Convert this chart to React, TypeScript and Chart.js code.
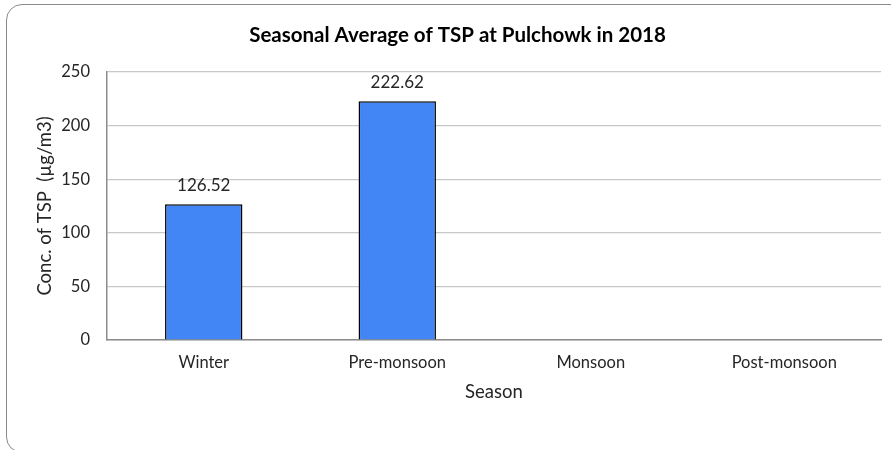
import React, { useEffect, useRef } from "react";
import { Chart, registerables } from "chart.js";

Chart.register(...registerables);

const categories = ["Winter", "Pre-monsoon", "Monsoon", "Post-monsoon"];
const tspValues: (number | null)[] = [126.52, 222.62, null, null];
const yTicks = [0, 50, 100, 150, 200, 250];

const FONT = "Lato, 'Open Sans', 'Liberation Sans', sans-serif";

const valueLabels = {
  id: "valueLabels",
  afterDatasetsDraw(chart: any) {
    const ctx = chart.ctx;
    const meta = chart.getDatasetMeta(0);
    ctx.save();
    ctx.font = `17px ${FONT}`;
    ctx.fillStyle = "#262626";
    ctx.textAlign = "center";
    ctx.textBaseline = "middle";
    meta.data.forEach((bar: any, i: number) => {
      const v = tspValues[i];
      if (v === null || v === undefined) return;
      ctx.fillText(v.toFixed(2), bar.x, bar.y - 19);
    });
    ctx.restore();
  },
};

export default function App() {
  const ref = useRef<HTMLCanvasElement | null>(null);
  useEffect(() => {
    if (!ref.current) return;
    const chart = new Chart(ref.current, {
      type: "bar",
      data: {
        labels: categories,
        datasets: [
          {
            data: tspValues,
            backgroundColor: "#4285F4",
            borderColor: "#000000",
            borderWidth: 1.5,
            barPercentage: 0.4,
            categoryPercentage: 1,
          },
        ],
      },
      options: {
        animation: false,
        responsive: false,
        maintainAspectRatio: false,
        layout: { padding: { left: 34, right: 10, top: 0, bottom: 40 } },
        plugins: {
          legend: { display: false },
          tooltip: { enabled: false },
          title: {
            display: true,
            text: "Seasonal Average of TSP at Pulchowk in 2018",
            color: "#000000",
            font: { family: FONT, size: 20.5, weight: "bold" },
            padding: { top: 22.7, bottom: 24.7 },
          },
        },
        scales: {
          x: {
            grid: { display: false, drawTicks: false },
            border: { display: true, color: "#8c8c8c", width: 1.5 },
            ticks: {
              color: "#262626",
              font: { family: FONT, size: 16.5 },
              padding: 13,
              maxRotation: 0,
            },
            title: {
              display: true,
              text: "Season",
              color: "#262626",
              font: { family: FONT, size: 18.5 },
              padding: { top: 0, bottom: 6.9 },
            },
            afterFit(scale: any) {
              scale.height = 70;
            },
          },
          y: {
            min: 0,
            max: 250,
            afterBuildTicks(scale: any) {
              scale.ticks = yTicks.map((v) => ({ value: v }));
            },
            grid: { color: "#c8c8c8", lineWidth: 1.2, drawTicks: false },
            border: { display: true, color: "#8c8c8c", width: 1.5 },
            ticks: {
              color: "#262626",
              font: { family: FONT, size: 16.5 },
              padding: 17,
            },
            title: {
              display: true,
              text: "Conc. of TSP  (µg/m3)",
              color: "#262626",
              font: { family: FONT, size: 18.5 },
              padding: { top: 0.4, bottom: 0 },
            },
            afterFit(scale: any) {
              scale.width = 73;
            },
          },
        },
      },
      plugins: [valueLabels],
    });
    return () => chart.destroy();
  }, []);

  return (
    <div
      style={{
        position: "fixed",
        left: 0,
        top: 0,
        width: 891,
        height: 450,
        background: "#ffffff",
        overflow: "hidden",
      }}
    >
      <div
        style={{
          position: "absolute",
          left: 6,
          top: 4,
          width: 900,
          height: 449,
          border: "1.5px solid #8a8a8a",
          borderRadius: 16,
          boxSizing: "border-box",
        }}
      />
      <canvas
        ref={ref}
        width={891}
        height={450}
        style={{ position: "absolute", left: 0, top: 0, width: 891, height: 450 }}
      />
    </div>
  );
}
